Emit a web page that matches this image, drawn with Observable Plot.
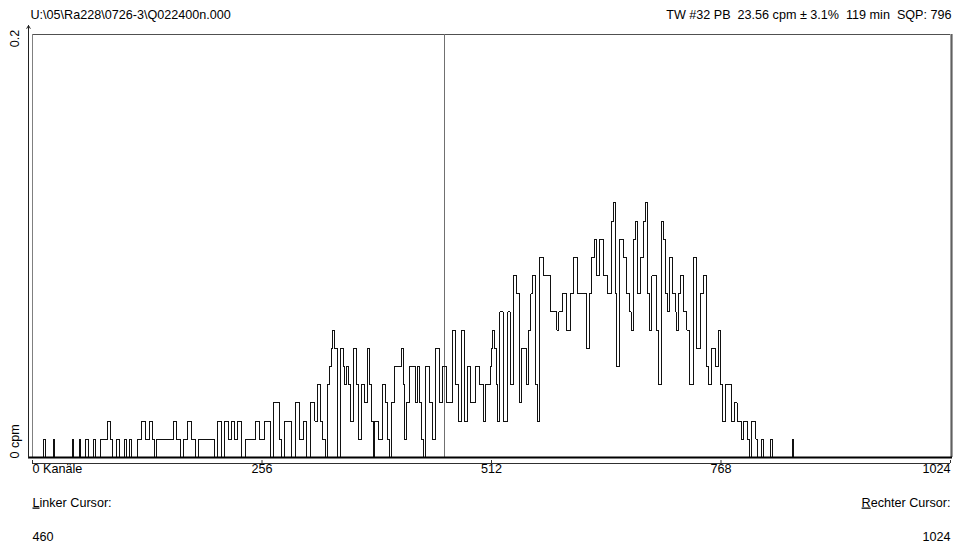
<!DOCTYPE html>
<html><head><meta charset="utf-8">
<script src="https://cdn.jsdelivr.net/npm/d3@7"></script>
<script src="https://cdn.jsdelivr.net/npm/@observablehq/plot@0.6"></script>
<style>
html,body{margin:0;padding:0;background:#fff;}
#chart svg{display:block;}
#chart text{white-space:pre;}
</style></head><body><div id="chart"></div>
<script>
// Spectrum: channel where a step begins, and counts in that step
const channels = [0,12,14,23,25,45,46,52,54,59,62,68,70,76,84,87,89,94,97,103,105,108,110,117,122,126,131,134,136,138,157,161,165,168,173,177,182,185,203,206,211,214,219,222,225,229,233,238,249,253,259,265,269,276,278,281,289,293,298,302,306,310,315,318,321,323,327,329,331,334,335,337,340,344,347,348,350,352,355,358,361,364,367,370,374,376,378,380,381,386,390,394,396,398,400,404,412,414,415,417,421,427,429,432,434,436,438,443,446,450,454,457,462,468,472,475,479,482,485,489,494,499,503,505,511,512,513,515,518,519,521,525,530,533,537,540,543,545,551,553,556,558,561,563,566,570,578,585,587,591,596,600,603,608,618,621,624,627,629,632,637,641,646,648,650,651,655,659,663,666,668,670,673,675,678,682,684,686,688,691,696,698,702,704,706,708,711,714,717,718,721,723,726,730,733,737,741,745,748,752,754,757,762,765,767,770,773,780,783,786,791,793,798,800,802,807,809,813,815,823,825,848,849,1024];
const counts = [0,1,0,1,0,1,0,1,0,1,0,1,0,1,2,1,0,1,0,1,0,1,0,1,2,1,2,1,0,1,2,1,0,1,2,1,0,1,0,2,0,2,1,2,1,2,0,1,2,1,2,0,3,1,0,2,0,3,1,2,0,3,2,4,2,1,0,4,5,6,7,6,0,6,5,4,5,4,2,6,4,1,4,3,6,4,2,0,2,1,4,3,1,0,3,5,6,4,1,3,5,3,5,3,1,0,5,3,1,6,3,5,3,7,4,2,7,2,5,3,5,4,2,4,5,6,7,6,4,2,8,2,8,4,10,9,3,6,4,7,9,10,4,2,11,10,8,7,8,9,7,9,11,9,6,9,11,12,10,12,10,9,13,14,9,5,12,11,9,8,7,12,13,9,11,13,14,9,7,10,7,4,13,12,9,8,11,9,8,7,9,10,8,7,4,11,6,9,10,5,4,6,5,7,4,2,4,2,3,2,1,2,1,0,2,1,0,1,0,1,0,1,0,0];
const cpmPerCount = 0.0086;

const xTicks = [0, 256, 512, 768, 1024];
const xTickLabels = ["0 Kanäle", "256", "512", "768", "1024"];
const yTicks = [0.2, 0];
const yTickLabels = ["0.2", "0 cpm"];
const headerLeft = "U:\\05\\Ra228\\0726-3\\Q022400n.000";
const headerRight = "TW #32 PB  23.56 cpm ± 3.1%  119 min  SQP: 796";
const cursorLeft = 460;
const cursorRight = 1024;
const cursorLabels = ["Linker Cursor:", "Rechter Cursor:"];

const data = channels.map((c, i) => ({ch: c, cpm: counts[i] * cpmPerCount}));
const font = "'Liberation Sans', Arial, sans-serif";

const plot = Plot.plot({
  width: 967, height: 550,
  marginLeft: 32, marginRight: 17, marginTop: 34, marginBottom: 93,
  x: {domain: [0, 1024], axis: null},
  y: {domain: [0, 0.2], axis: null},
  style: {fontFamily: font, fontSize: "12.6px", background: "#fff", color: "#000", overflow: "visible"},
  marks: [
    Plot.ruleY([0.2], {stroke: "#505050", strokeWidth: 1, insetRight: -2, shapeRendering: "crispEdges"}),
    Plot.ruleX([cursorRight], {stroke: "#a0a0a0", strokeWidth: 3, dx: 1}),
    Plot.ruleX([cursorRight], {stroke: "#606060", strokeWidth: 1, dx: 1, shapeRendering: "crispEdges"}),
    Plot.ruleX([0], {stroke: "#808080", strokeWidth: 1, shapeRendering: "crispEdges"}),
    Plot.ruleX([cursorLeft], {stroke: "#707070", strokeWidth: 1, shapeRendering: "crispEdges"}),
    Plot.line(data, {x: "ch", y: "cpm", curve: "step-after", stroke: "#111", strokeWidth: 1, shapeRendering: "crispEdges"}),
    Plot.ruleY([0], {stroke: "#000", strokeWidth: 2, insetLeft: -4, insetRight: -2}),
    Plot.arrow([0], {x1: 0, x2: 0, y1: () => 0, y2: () => 0.2, dx: -4, insetEnd: -9, headLength: 5, stroke: "#222", strokeWidth: 1}),
    Plot.ruleY([0], {stroke: "#303030", strokeWidth: 1, dy: 6, shapeRendering: "crispEdges"}),
    Plot.axisX({ticks: xTicks, tickSize: 3, tickFormat: () => "", label: null, dy: 3, stroke: "#303030"}),
    Plot.text([xTicks[0]], {x: d => d, text: d => xTickLabels[xTicks.indexOf(d)], frameAnchor: "bottom", dy: 15, textAnchor: "start"}),
    Plot.text(xTicks.slice(1, 4), {x: d => d, text: d => xTickLabels[xTicks.indexOf(d)], frameAnchor: "bottom", dy: 15, textAnchor: "middle"}),
    Plot.text([xTicks[4]], {x: d => d, text: d => xTickLabels[xTicks.indexOf(d)], frameAnchor: "bottom", dy: 15, textAnchor: "end"}),
    Plot.text([yTicks[0]], {y: d => d, text: [yTickLabels[0]], frameAnchor: "left", dx: -18, dy: 4, rotate: -90, textAnchor: "middle"}),
    Plot.text([yTicks[1]], {y: d => d, text: [yTickLabels[1]], frameAnchor: "left", dx: -18, dy: 1, rotate: -90, textAnchor: "start"}),
    Plot.text([0], {x: d => d, text: [cursorLabels[0]], frameAnchor: "bottom", dy: 49, textAnchor: "start"}),
    Plot.text([cursorLeft], {x: () => 0, text: [String(cursorLeft)], frameAnchor: "bottom", dy: 83, textAnchor: "start"}),
    Plot.text([1024], {x: d => d, text: [cursorLabels[1]], frameAnchor: "bottom", dy: 49, textAnchor: "end"}),
    Plot.text([cursorRight], {x: () => 1024, text: [String(cursorRight)], frameAnchor: "bottom", dy: 83, textAnchor: "end"}),
    Plot.text([headerLeft], {text: d => d, frameAnchor: "top-left", dx: -2, dy: -24, textAnchor: "start"}),
    Plot.text([headerRight], {text: d => d, frameAnchor: "top-right", dx: 1, dy: -24, textAnchor: "end"})
  ]
});
document.getElementById("chart").appendChild(plot);

// underline accelerator letters like the original dialog labels
d3.select(plot).selectAll("text").each(function() {
  const t = this.textContent;
  if (cursorLabels.includes(t)) {
    const sel = d3.select(this);
    sel.text(null);
    sel.append("tspan").attr("text-decoration", "underline").text(t[0]);
    sel.append("tspan").text(t.slice(1));
  }
});
</script>
</body></html>
